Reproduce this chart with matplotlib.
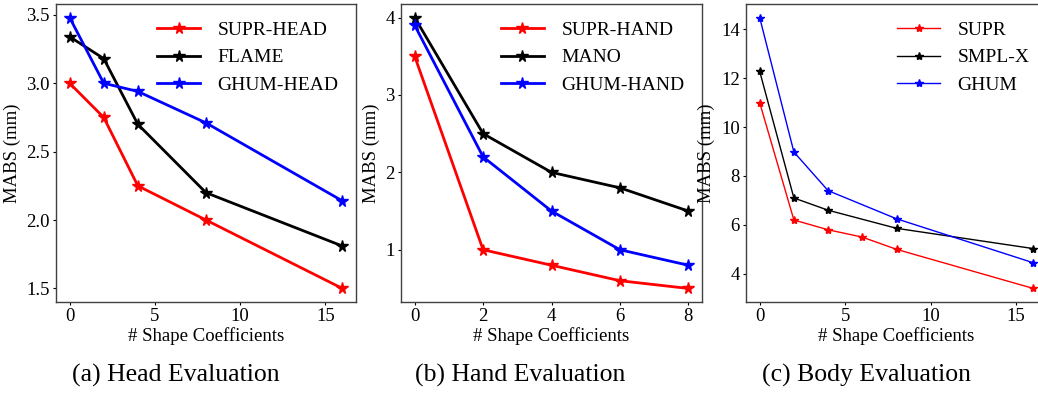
import matplotlib
matplotlib.use('Agg')
import matplotlib.pyplot as plt

plt.rcParams['font.family'] = ['Liberation Serif', 'DejaVu Serif']
plt.rcParams['font.size'] = 13.5

# head models
head_x = [0, 2, 4, 8, 16]
supr_head = [3.0, 2.75, 2.25, 2.0, 1.5]
flame = [3.34, 3.18, 2.70, 2.20, 1.81]
ghum_head = [3.48, 3.0, 2.94, 2.71, 2.14]

# hand models
hand_x = [0, 2, 4, 6, 8]
supr_hand = [3.5, 1.0, 0.8, 0.6, 0.5]
mano = [4.0, 2.5, 2.0, 1.8, 1.5]
ghum_hand = [3.9, 2.2, 1.5, 1.0, 0.8]

# body models
supr_body_x = [0, 2, 4, 6, 8, 16]
supr_body = [11.0, 6.2, 5.8, 5.5, 5.0, 3.4]
body_x = [0, 2, 4, 8, 16]
smplx = [12.28, 7.1, 6.6, 5.86, 5.03]
ghum_body = [14.48, 8.98, 7.4, 6.25, 4.45]

W, H = 1038, 394
fig = plt.figure(figsize=(W / 100, H / 100), dpi=100)

def make_ax(left_px, right_px):
    return fig.add_axes([left_px / W, (H - 302) / H, (right_px - left_px) / W, 298 / H])

ax1 = make_ax(56, 356)
ax2 = make_ax(401, 702)
ax3 = make_ax(746, 1047)

ax1.plot(head_x, supr_head, color='red', marker='*', lw=2, ms=8.5, label='SUPR-HEAD')
ax1.plot(head_x, flame, color='black', marker='*', lw=2, ms=8.5, label='FLAME')
ax1.plot(head_x, ghum_head, color='blue', marker='*', lw=2, ms=8.5, label='GHUM-HEAD')
ax1.set_yticks([1.5, 2.0, 2.5, 3.0, 3.5])

ax2.plot(hand_x, supr_hand, color='red', marker='*', lw=2, ms=8.5, label='SUPR-HAND')
ax2.plot(hand_x, mano, color='black', marker='*', lw=2, ms=8.5, label='MANO')
ax2.plot(hand_x, ghum_hand, color='blue', marker='*', lw=2, ms=8.5, label='GHUM-HAND')
ax2.set_xticks([0, 2, 4, 6, 8])
ax2.set_yticks([1, 2, 3, 4])

ax3.plot(supr_body_x, supr_body, color='red', marker='*', lw=1, ms=6, label='SUPR')
ax3.plot(body_x, smplx, color='black', marker='*', lw=1, ms=6, label='SMPL-X')
ax3.plot(body_x, ghum_body, color='blue', marker='*', lw=1, ms=6, label='GHUM')
ax3.set_yticks([4, 6, 8, 10, 12, 14])

for ax in (ax1, ax2, ax3):
    ax.set_xlabel('# Shape Coefficients', labelpad=1)
    ax.set_ylabel('MABS (mm)', labelpad=4)
    ax.tick_params(labelsize=13.5, length=2.5, width=0.8, pad=2)
    for s in ax.spines.values():
        s.set_color('#404040')
        s.set_linewidth(1.0)
    ax.legend(loc='upper right', frameon=False, fontsize=14,
              handlelength=2.2, handletextpad=0.9, labelspacing=0.5)

ax1.set_xticks([0, 5, 10, 15])
ax3.set_xticks([0, 5, 10, 15])

fig.text(176 / W, 1 - 375 / H, '(a) Head Evaluation', ha='center', va='center', fontsize=18.5)
fig.text(520 / W, 1 - 375 / H, '(b) Hand Evaluation', ha='center', va='center', fontsize=18.5)
fig.text(866 / W, 1 - 375 / H, '(c) Body Evaluation', ha='center', va='center', fontsize=18.5)

fig.savefig('out.png', dpi=100)
